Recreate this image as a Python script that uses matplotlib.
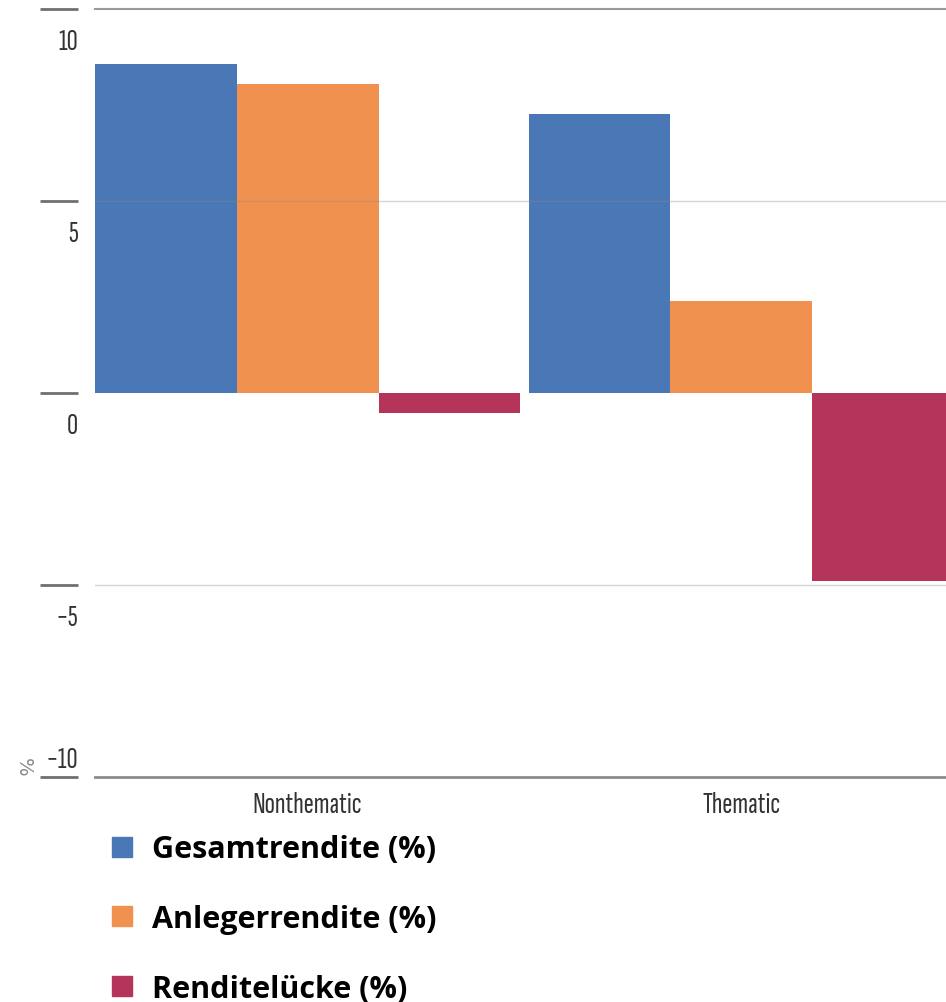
import numpy as np
import matplotlib
matplotlib.use("Agg")
import matplotlib.pyplot as plt
from matplotlib import font_manager
from matplotlib.transforms import ScaledTranslation
from matplotlib.lines import Line2D

# ---------------------------------------------------------------
# Data
# ---------------------------------------------------------------
categories = ["Nonthematic", "Thematic"]
series = ["Gesamtrendite (%)", "Anlegerrendite (%)", "Renditelücke (%)"]
gesamt = [8.57, 7.27]
anleger = [8.05, 2.40]
luecke = [-0.52, -4.90]
y_ticks = [-10, -5, 0, 5, 10]
y_ticklabels = ["\u221210", "\u22125", "0", "5", "10"]

colors = ["#4A77B5", "#F0914F", "#B5355A"]


def first_font(cands):
    names = {f.name for f in font_manager.fontManager.ttflist}
    for c in cands:
        if c in names:
            return c
    return "DejaVu Sans"


cond_family = first_font(["Sofia Sans Extra Condensed", "Sofia Sans Condensed", "Roboto Condensed"])
legend_family = first_font(["Open Sans", "Lato"])

PT = 72 / 100  # pixels -> points at dpi 100

# ---------------------------------------------------------------
# Plot
# ---------------------------------------------------------------
fig = plt.figure(figsize=(9.46, 10.03), dpi=100)
ax = fig.add_axes([95 / 946, 225 / 1003, 859 / 946, 768 / 1003])

x = np.arange(len(categories))
w = 0.327
for i, (vals, c) in enumerate(zip([gesamt, anleger, luecke], colors)):
    ax.bar(x + (i - 1) * w, vals, w, color=c, label=series[i], zorder=2)

ax.set_xlim(-1.5 * w, 1 + 1.5 * w)
ax.set_ylim(-10, 10)

# inner grid lines (drawn over bars)
for v in y_ticks[1:-1]:
    if v != 0:
        ax.axhline(v, color="#888888", lw=1, alpha=0.35, zorder=3)

for s in ["left", "right"]:
    ax.spines[s].set_visible(False)
ax.spines["top"].set_color("#9a9a9a")
ax.spines["top"].set_linewidth(1.5)
ax.spines["bottom"].set_color("#8c8c8c")
ax.spines["bottom"].set_linewidth(2.0)

# y ticks: short lines away from the plot, labels below them
ax.spines["left"].set_position(("outward", 17 * PT))
ax.set_yticks(y_ticks)
ax.set_yticklabels(y_ticklabels, fontsize=22, color="#333333", family=cond_family)
ax.tick_params(axis="y", length=38 * PT, width=2.0, color="#707070", pad=-38 * PT)
for v, lab in zip(y_ticks, ax.get_yticklabels()):
    dy = 0.20 if v == y_ticks[0] else -0.30
    lab.set_transform(lab.get_transform() + ScaledTranslation(0, dy, fig.dpi_scale_trans))

ax.set_xticks(x)
ax.set_xticklabels(categories, fontsize=22, color="#333333", family=cond_family)
ax.tick_params(axis="x", length=0, pad=10)

fig.text(23 / 946, 1 - 767 / 1003, "%", rotation=-90, fontsize=14,
         color="#888888", ha="center", va="center")

handles = [Line2D([], [], ls="", marker="s", markersize=20 * PT, color=c) for c in colors]
fig.legend(handles, series, loc="upper left", bbox_to_anchor=(97 / 946, 1 - 823 / 1003),
           frameon=False, handlelength=0.85, handletextpad=0.55, labelspacing=1.3,
           prop=dict(family=legend_family, weight="bold", size=22), borderaxespad=0)

fig.savefig("out.png", dpi=100)
